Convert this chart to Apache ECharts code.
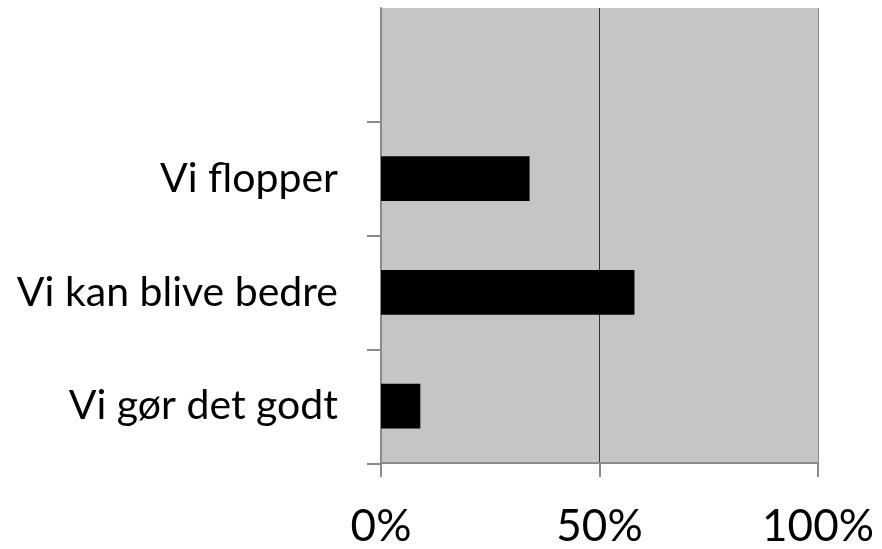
<!DOCTYPE html>
<html><head><meta charset="utf-8">
<script src="https://cdn.jsdelivr.net/npm/echarts@6/dist/echarts.min.js"></script>
<style>html,body{margin:0;padding:0;background:#fff}#c{width:882px;height:549px}</style>
</head><body><div id="c"></div>
<script>
const categories = ['Vi gør det godt', 'Vi kan blive bedre', 'Vi flopper', ''];
const values = [9, 58, 34, null];
const xTicks = [0, 50, 100];

const chart = echarts.init(document.getElementById('c'));
chart.setOption({
  animation: false,
  grid: [
    { left: 381, right: 64, top: 8, bottom: 85, show: true, backgroundColor: '#c5c5c7', borderWidth: 0 },
    { left: 381, right: 64, top: 122, bottom: 85, show: false }
  ],
  xAxis: [{
    type: 'value', gridIndex: 0, min: xTicks[0], max: xTicks[xTicks.length - 1], interval: 50,
    axisLine: { show: true, lineStyle: { color: '#8a8a8a', width: 2 } },
    axisTick: { show: true, length: 14, lineStyle: { color: '#8a8a8a', width: 2 } },
    splitLine: { show: true, lineStyle: { color: ['#8a8a8a', '#333333', '#8a8a8a'], width: 1 } },
    axisLabel: { formatter: '{value}%', color: '#000', fontFamily: 'Lato', fontSize: 44, margin: 42 }
  }, {
    type: 'value', gridIndex: 1, min: 0, max: 100, show: false
  }],
  yAxis: [{
    type: 'category', gridIndex: 0, data: categories,
    axisLine: { show: true, lineStyle: { color: '#8a8a8a', width: 2 } },
    axisTick: { show: false },
    splitLine: { show: false },
    axisLabel: { color: '#000', fontFamily: 'Lato', fontSize: 41, margin: 43 }
  }, {
    type: 'category', gridIndex: 1, data: categories.slice(0, 3),
    axisLine: { show: true, lineStyle: { color: '#8a8a8a', width: 2 } },
    axisTick: { show: true, length: 14, lineStyle: { color: '#8a8a8a', width: 2 } },
    splitLine: { show: false },
    axisLabel: { show: false }
  }],
  series: [{
    type: 'bar', xAxisIndex: 0, yAxisIndex: 0, data: values, barWidth: '39.5%',
    itemStyle: { color: '#000' }
  }]
});
</script></body></html>
